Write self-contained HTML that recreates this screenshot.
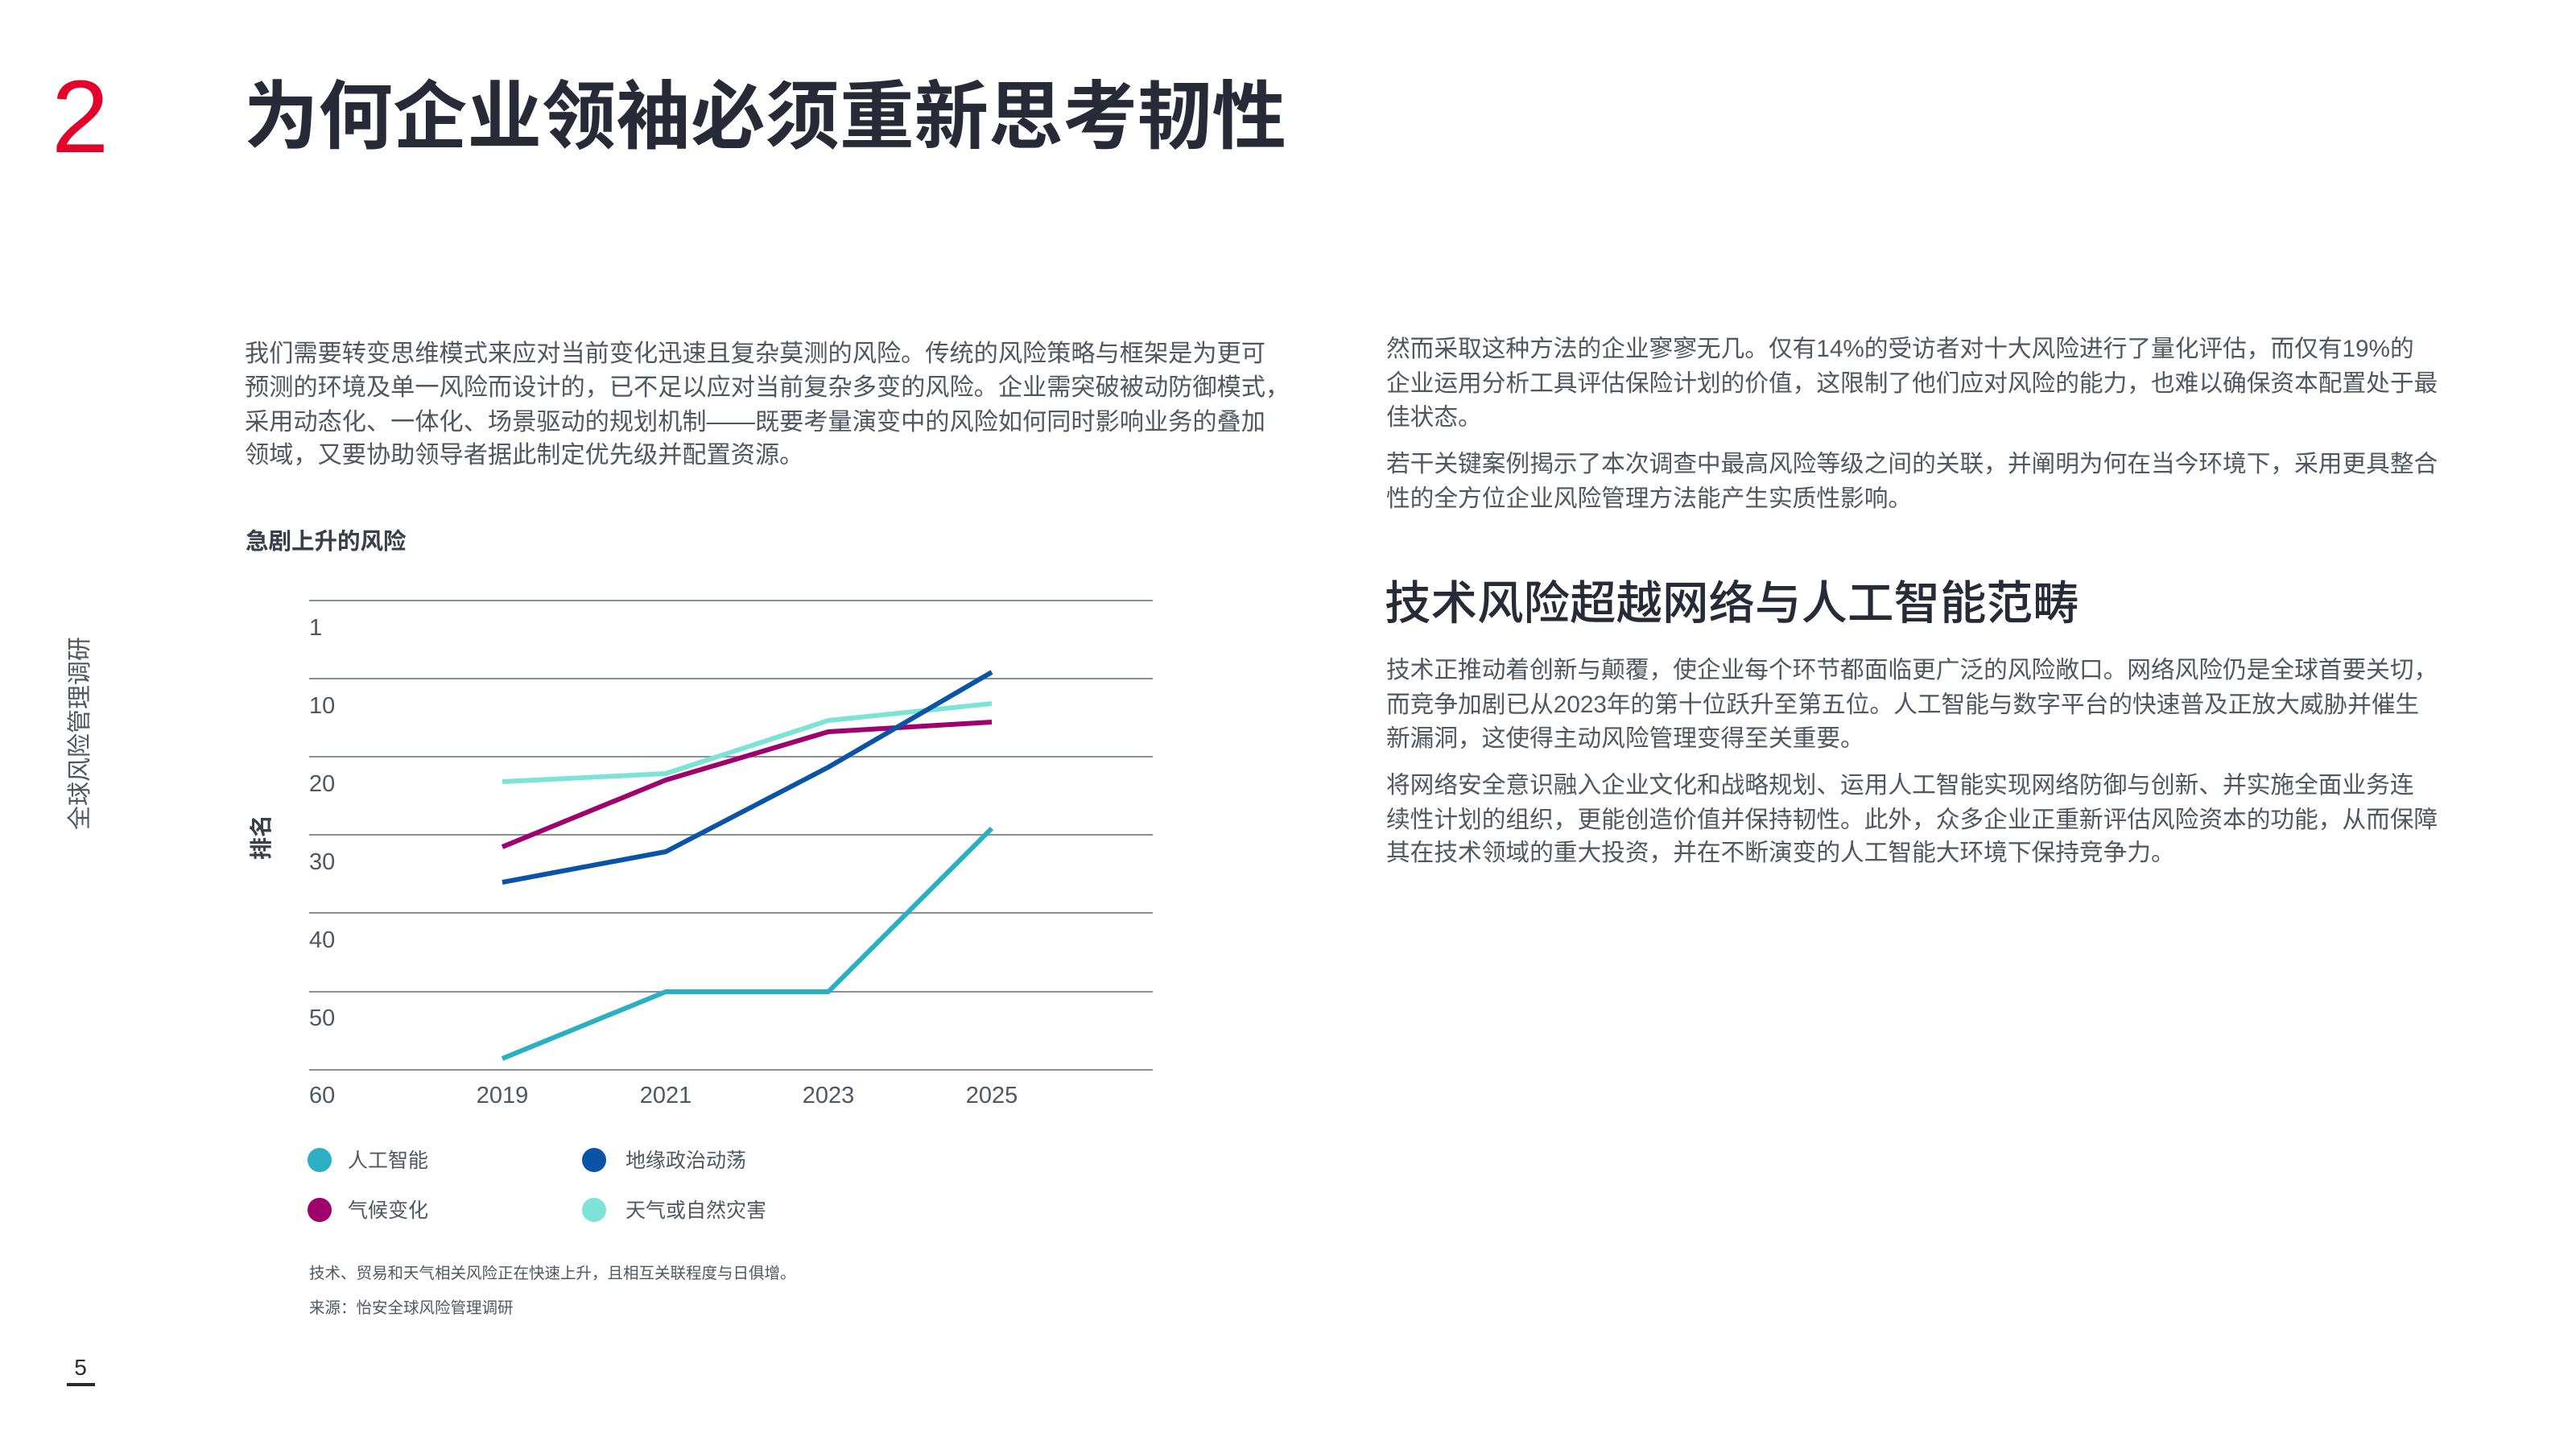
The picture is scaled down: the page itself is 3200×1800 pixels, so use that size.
<!DOCTYPE html>
<html><head><meta charset="utf-8">
<style>
html,body{margin:0;padding:0;background:#fff;}
body{width:3200px;height:1800px;position:relative;overflow:hidden;font-family:"Liberation Sans","Noto Sans CJK SC",sans-serif;}
.t{position:absolute;white-space:nowrap;line-height:42px;height:42px;font-size:29.7px;color:#4f5762;}
.l{font-size:30.2px;}
</style></head><body>
<div style="position:absolute;left:64px;top:82px;font-size:128px;line-height:128px;color:#e4002b;font-family:'Liberation Sans',sans-serif;font-weight:300;">2</div>
<div style="position:absolute;left:303px;top:90px;font-size:92.5px;line-height:110px;font-weight:bold;color:#272a37;white-space:nowrap;">为何企业领袖必须重新思考韧性</div>

<div class="t l" style="left:304px;top:419px">我们需要转变思维模式来应对当前变化迅速且复杂莫测的风险。传统的风险策略与框架是为更可</div>
<div class="t l" style="left:304px;top:461px">预测的环境及单一风险而设计的，已不足以应对当前复杂多变的风险。企业需突破被动防御模式，</div>
<div class="t l" style="left:304px;top:504px">采用动态化、一体化、场景驱动的规划机制——既要考量演变中的风险如何同时影响业务的叠加</div>
<div class="t l" style="left:304px;top:545px">领域，又要协助领导者据此制定优先级并配置资源。</div>

<div class="t" style="left:1722px;top:413px">然而采取这种方法的企业寥寥无几。仅有14%的受访者对十大风险进行了量化评估，而仅有19%的</div>
<div class="t" style="left:1722px;top:456px">企业运用分析工具评估保险计划的价值，这限制了他们应对风险的能力，也难以确保资本配置处于最</div>
<div class="t" style="left:1722px;top:498px">佳状态。</div>
<div class="t" style="left:1722px;top:556px">若干关键案例揭示了本次调查中最高风险等级之间的关联，并阐明为何在当今环境下，采用更具整合</div>
<div class="t" style="left:1722px;top:599px">性的全方位企业风险管理方法能产生实质性影响。</div>
<div style="position:absolute;left:1720px;top:716px;font-size:57.5px;line-height:68px;color:#272a37;white-space:nowrap;font-weight:500;">技术风险超越网络与人工智能范畴</div>
<div class="t" style="left:1722px;top:812px">技术正推动着创新与颠覆，使企业每个环节都面临更广泛的风险敞口。网络风险仍是全球首要关切，</div>
<div class="t" style="left:1722px;top:855px">而竞争加剧已从2023年的第十位跃升至第五位。人工智能与数字平台的快速普及正放大威胁并催生</div>
<div class="t" style="left:1722px;top:897px">新漏洞，这使得主动风险管理变得至关重要。</div>
<div class="t" style="left:1722px;top:955px">将网络安全意识融入企业文化和战略规划、运用人工智能实现网络防御与创新、并实施全面业务连</div>
<div class="t" style="left:1722px;top:998px">续性计划的组织，更能创造价值并保持韧性。此外，众多企业正重新评估风险资本的功能，从而保障</div>
<div class="t" style="left:1722px;top:1039px">其在技术领域的重大投资，并在不断演变的人工智能大环境下保持竞争力。</div>

<div class="t" style="left:305px;top:652px;font-weight:bold;font-size:28.5px;color:#3a404b">急剧上升的风险</div>

<svg style="position:absolute;left:0;top:0" width="3200" height="1800">
<g stroke="#8a8f96" stroke-width="2">
<line x1="384" x2="1432" y1="746" y2="746"/><line x1="384" x2="1432" y1="843" y2="843"/>
<line x1="384" x2="1432" y1="940" y2="940"/><line x1="384" x2="1432" y1="1037" y2="1037"/>
<line x1="384" x2="1432" y1="1134" y2="1134"/><line x1="384" x2="1432" y1="1232" y2="1232"/>
<line x1="384" x2="1432" y1="1329" y2="1329"/>
</g>
<g font-family="Liberation Sans, sans-serif" font-size="29" fill="#4f5762">
<text x="384" y="789">1</text><text x="384" y="886">10</text><text x="384" y="983">20</text>
<text x="384" y="1080">30</text><text x="384" y="1177">40</text><text x="384" y="1274">50</text>
<text x="384" y="1370">60</text>
<g text-anchor="middle"><text x="624" y="1370">2019</text><text x="827" y="1370">2021</text><text x="1029" y="1370">2023</text><text x="1232" y="1370">2025</text></g>
</g>
<text transform="translate(334,1040) rotate(-90)" text-anchor="middle" font-family="Liberation Sans, Noto Sans CJK SC, sans-serif" font-size="28" font-weight="bold" fill="#3a404b">排名</text>
<g fill="none" stroke-width="6" stroke-linejoin="round">
<polyline stroke="#7de3d8" points="624,971 827,961 1029,895 1232,874"/>
<polyline stroke="#a0006e" points="624,1052 827,969 1029,909 1232,897"/>
<polyline stroke="#0a54a8" points="624,1096 827,1058 1029,953 1232,835"/>
<polyline stroke="#2ab0c2" points="624,1315 827,1232 1029,1232 1232,1029"/>
</g>
<circle cx="397" cy="1441" r="15" fill="#2ab0c2"/><circle cx="738" cy="1441" r="15" fill="#0a54a8"/>
<circle cx="397" cy="1503" r="15" fill="#a0006e"/><circle cx="738" cy="1503" r="15" fill="#7de3d8"/>
<g font-family="Liberation Sans, Noto Sans CJK SC, sans-serif" font-size="25" fill="#4f5762">
<text x="432" y="1450">人工智能</text><text x="777" y="1450">地缘政治动荡</text>
<text x="432" y="1512">气候变化</text><text x="777" y="1512">天气或自然灾害</text>
<text x="384" y="1588" font-size="19.5">技术、贸易和天气相关风险正在快速上升，且相互关联程度与日俱增。</text>
<text x="384" y="1631" font-size="19.5">来源：怡安全球风险管理调研</text>
</g>
<text transform="translate(109,911) rotate(-90)" text-anchor="middle" font-family="Liberation Sans, Noto Sans CJK SC, sans-serif" font-size="30" fill="#4f5762">全球风险管理调研</text>
<text x="100" y="1708" text-anchor="middle" font-family="Liberation Sans, sans-serif" font-size="28" fill="#272a37">5</text>
<line x1="83" x2="118" y1="1720" y2="1720" stroke="#272a37" stroke-width="4"/>
</svg>
</body></html>
